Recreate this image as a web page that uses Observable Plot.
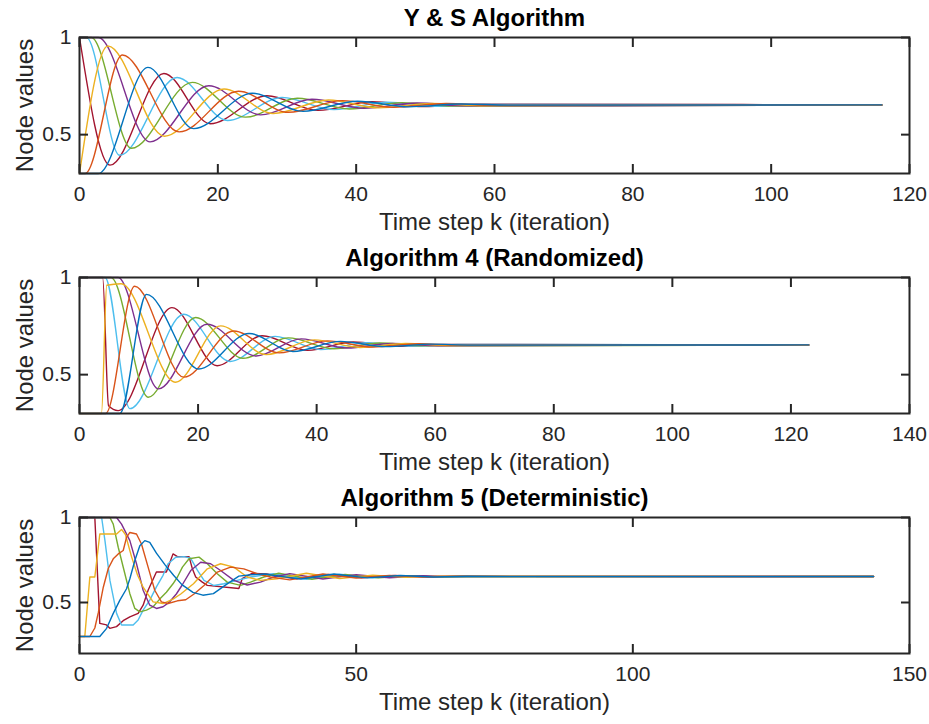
<!DOCTYPE html>
<html><head><meta charset="utf-8">
<script src="https://cdn.jsdelivr.net/npm/d3@7"></script>
<script src="https://cdn.jsdelivr.net/npm/@observablehq/plot@0.6"></script>
<style>
body{margin:0;background:#fff;}
#chart{position:relative;width:929px;height:724px;background:#fff;}
#chart svg{display:block;}
</style></head><body><div id="chart"></div>
<script>
// Node names and MATLAB default colour order
const nodeNames = ["Node 1","Node 2","Node 3","Node 4","Node 5","Node 6","Node 7"];
const nodeColors = ["#0072BD","#D95319","#EDB120","#7E2F8E","#77AC30","#4DBEEE","#A2142F"];

const titles = ["Y & S Algorithm","Algorithm 4 (Randomized)","Algorithm 5 (Deterministic)"];
const xLabel = "Time step k (iteration)";
const yLabel = "Node values";
const xTicks1 = [0,20,40,60,80,100,120];
const xTicks2 = [0,20,40,60,80,100,120,140];
const xTicks3 = [0,50,100,150];
const yTicks = [0.5,1];

// Panel 1 : Y & S  — [k, value] readings (turning points) per node
const ys1 = [[0,0.3],[2.7,0.3],[9.9,0.846],[16.5,0.531],[25.0,0.713],[32.3,0.62],[40.2,0.672],[47.6,0.643],[55.2,0.658],[62,0.652],[116,0.653]];
const ys2 = [[0,0.3],[0.8,0.3],[6.2,0.91],[14.4,0.514],[23.0,0.723],[30.2,0.615],[38.0,0.675],[45.4,0.641],[53.0,0.66],[60,0.651],[116,0.653]];
const ys3 = [[0,0.3],[4.1,0.956],[12.3,0.492],[20.9,0.735],[28.0,0.609],[36.0,0.678],[43.3,0.638],[51.0,0.661],[58,0.649],[116,0.653]];
const ys4 = [[0,1],[2.7,1],[10.2,0.463],[18.7,0.752],[26.2,0.602],[33.6,0.682],[41.1,0.636],[48.8,0.663],[56,0.648],[116,0.653]];
const ys5 = [[0,1],[1.7,1],[7.5,0.43],[16.3,0.769],[24.0,0.59],[31.5,0.687],[39.0,0.632],[46.6,0.665],[54,0.647],[116,0.653]];
const ys6 = [[0,1],[1.0,1],[5.8,0.394],[14.1,0.794],[21.4,0.573],[29.3,0.691],[36.8,0.629],[44.5,0.667],[52.0,0.646],[59,0.655],[116,0.653]];
const ys7 = [[0,1],[4.4,0.343],[12.2,0.815],[18.9,0.556],[27.1,0.70],[34.5,0.625],[42.3,0.669],[49.8,0.644],[57.4,0.657],[116,0.653]];

// Panel 2 : Algorithm 4 (Randomized)
const rnd1 = [[0,0.3],[6.8,0.3],[11.3,0.913],[20.1,0.529],[28.6,0.712],[36.0,0.619],[44.0,0.671],[51.7,0.644],[59.4,0.657],[66,0.652],[123,0.653]];
const rnd2 = [[0,0.3],[4.4,0.3],[9.3,0.955],[17.6,0.487],[26.0,0.725],[33.7,0.612],[41.8,0.674],[49.5,0.642],[57.2,0.659],[64,0.652],[123,0.653]];
const rnd3 = [[0,0.3],[3.7,0.3],[4.6,0.96],[7.0,0.968],[16.2,0.461],[23.8,0.751],[31.5,0.603],[39.6,0.679],[47.3,0.64],[55.0,0.66],[62.7,0.65],[123,0.653]];
const rnd4 = [[0,1],[6.5,1],[13.3,0.427],[21.5,0.759],[29.8,0.596],[37.4,0.684],[45.1,0.637],[52.8,0.661],[60.5,0.649],[123,0.653]];
const rnd5 = [[0,1],[5.3,1],[11.6,0.384],[19.6,0.794],[27.6,0.584],[35.2,0.689],[42.9,0.633],[50.6,0.663],[58.3,0.648],[123,0.653]];
const rnd6 = [[0,1],[4.3,1],[8.5,0.325],[17.6,0.811],[25.4,0.568],[33.0,0.697],[40.7,0.629],[48.4,0.665],[56.1,0.647],[63.8,0.656],[123,0.653]];
const rnd7 = [[0,1],[3.9,1],[4.9,0.34],[6.5,0.315],[15.6,0.845],[23.2,0.546],[30.8,0.70],[38.5,0.625],[46.2,0.668],[53.9,0.646],[61.6,0.656],[123,0.653]];

// Panel 3 : Algorithm 5 (Deterministic)
const det1 = [[0,0.3],[3.67,0.3],[4.9,0.348],[6.1,0.436],[7.3,0.514],[8.5,0.581],[9.1,0.64],[10.0,0.747],[10.9,0.834],[11.8,0.864],[12.7,0.854],[13.9,0.79],[15.5,0.72],[17,0.66],[18.5,0.605],[20.5,0.56],[22.3,0.543],[24.2,0.552],[26.5,0.605],[28.8,0.655],[31,0.663],[33.5,0.668],[36,0.655],[40,0.638],[46,0.668],[52,0.645],[58,0.659],[64,0.65],[70,0.654],[143.5,0.653]];
const det2 = [[0,0.3],[1.87,0.3],[2.77,0.35],[3.4,0.44],[4.3,0.59],[5.2,0.70],[6.1,0.757],[7.0,0.786],[7.9,0.806],[8.5,0.883],[9.1,0.912],[10.3,0.903],[11.2,0.844],[12.4,0.708],[13.6,0.572],[14.8,0.504],[16.0,0.494],[17.7,0.51],[19.2,0.516],[20.7,0.55],[22.5,0.6],[24.9,0.679],[27.3,0.708],[29.7,0.698],[32.1,0.669],[34.5,0.65],[38,0.633],[44,0.668],[50,0.644],[56,0.659],[62,0.65],[68,0.654],[143.5,0.653]];
const det3 = [[0,0.3],[0.96,0.3],[1.87,0.65],[2.77,0.65],[3.67,0.903],[6.7,0.903],[7.6,0.93],[8.3,0.9],[9.4,0.77],[10.5,0.66],[11.5,0.59],[13.3,0.504],[15.1,0.494],[16.9,0.52],[18.3,0.55],[20.6,0.61],[23.1,0.698],[25.5,0.728],[27.9,0.708],[30.3,0.65],[32.7,0.63],[35.7,0.64],[41,0.672],[47,0.641],[53,0.661],[59,0.648],[65,0.655],[143.5,0.653]];
const det4 = [[0,1],[6.7,1],[7.6,0.961],[9.1,0.864],[10.3,0.728],[11.5,0.572],[12.7,0.484],[13.9,0.465],[15.1,0.475],[16.3,0.504],[17.5,0.55],[18.5,0.6],[20.1,0.688],[21.9,0.737],[23.7,0.728],[25.5,0.688],[27.9,0.63],[30.3,0.603],[32.7,0.62],[35.1,0.65],[38,0.67],[44,0.638],[50,0.664],[56,0.646],[62,0.657],[68,0.652],[143.5,0.653]];
const det5 = [[0,1],[5.5,1],[6.1,0.961],[7.0,0.825],[8.2,0.669],[9.1,0.552],[10.0,0.465],[10.9,0.445],[12.1,0.455],[13.3,0.475],[14.5,0.52],[15.7,0.56],[16.9,0.61],[17.7,0.65],[18.6,0.708],[19.8,0.757],[21.6,0.767],[23.1,0.728],[24.9,0.669],[26.7,0.62],[29.1,0.601],[30.9,0.62],[33.3,0.65],[36,0.672],[42,0.637],[48,0.665],[54,0.645],[60,0.657],[66,0.651],[143.5,0.653]];
const det6 = [[0,1],[4.0,1],[4.6,0.864],[5.5,0.63],[6.7,0.436],[7.6,0.368],[9.7,0.368],[10.6,0.397],[11.5,0.455],[12.7,0.514],[13.9,0.592],[15.1,0.66],[16.0,0.728],[17.4,0.766],[18.9,0.77],[20.1,0.76],[21.3,0.69],[22.5,0.63],[24.3,0.6],[26.1,0.61],[28.5,0.63],[30.9,0.65],[35,0.67],[41,0.636],[47,0.666],[53,0.645],[59,0.658],[65,0.651],[143.5,0.653]];
const det7 = [[0,1],[2.77,1],[3.67,0.377],[4.88,0.368],[5.48,0.348],[6.69,0.358],[7.89,0.393],[9.1,0.416],[10.6,0.436],[11.5,0.484],[12.4,0.572],[13.9,0.679],[15.7,0.679],[16.9,0.786],[17.7,0.77],[19.8,0.77],[20.4,0.698],[21,0.65],[22.2,0.62],[23.1,0.601],[28.8,0.582],[29.4,0.64],[31.2,0.672],[33.9,0.668],[36.3,0.653],[39.3,0.64],[45,0.665],[51,0.646],[57,0.659],[63,0.65],[69,0.654],[143.5,0.653]];

const panels = [
  {title: titles[0], series: [ys1,ys2,ys3,ys4,ys5,ys6,ys7], xDomain: [0,120], xTicks: xTicks1, yDomain: [0.3,1], curve: "monotone-x"},
  {title: titles[1], series: [rnd1,rnd2,rnd3,rnd4,rnd5,rnd6,rnd7], xDomain: [0,140], xTicks: xTicks2, yDomain: [0.3,1], curve: "monotone-x"},
  {title: titles[2], series: [det1,det2,det3,det4,det5,det6,det7], xDomain: [0,150], xTicks: xTicks3, yDomain: [0.2,1], curve: "linear"}
];

const font = "'Liberation Sans', Arial, Helvetica, sans-serif";
const ink = "#262626";

function panel({title, series, xDomain, xTicks, yDomain, curve}) {
  const rows = [];
  // draw node 7 first and node 1 last (node 1 ends on top)
  for (let i = series.length - 1; i >= 0; --i) {
    series[i].forEach(([k, v]) => rows.push({node: nodeNames[i], k, v}));
  }
  const fmt = d => String(d);
  return Plot.plot({
    width: 929, height: 240,
    marginLeft: 79, marginRight: 20, marginTop: 37, marginBottom: 67,
    style: {fontFamily: font, color: ink, background: "white", overflow: "visible"},
    x: {domain: xDomain},
    y: {domain: yDomain},
    color: {domain: nodeNames, range: nodeColors},
    marks: [
      Plot.line(rows, {x: "k", y: "v", z: "node", stroke: "node", strokeWidth: 1.4, curve}),
      Plot.frame({stroke: ink, strokeWidth: 2}),
      Plot.axisX(xTicks, {anchor: "bottom", tickSize: 0, tickPadding: 13, tickFormat: fmt, label: null, fontSize: 21, fill: ink}),
      Plot.axisX(xTicks, {anchor: "bottom", tickSize: -9, tickFormat: () => "", label: null, stroke: ink, strokeWidth: 2}),
      Plot.axisX(xTicks, {anchor: "top", tickSize: -9, tickFormat: () => "", label: null, stroke: ink, strokeWidth: 2}),
      Plot.axisY(yTicks, {anchor: "left", tickSize: 0, tickPadding: 8, tickFormat: fmt, label: null, fontSize: 21, fill: ink}),
      Plot.axisY(yTicks, {anchor: "left", tickSize: -9, tickFormat: () => "", label: null, stroke: ink, strokeWidth: 2}),
      Plot.axisY(yTicks, {anchor: "right", tickSize: -9, tickFormat: () => "", label: null, stroke: ink, strokeWidth: 2}),
      Plot.text([title], {text: d => d, frameAnchor: "top", lineAnchor: "middle", dy: -19, fontWeight: "bold", fontSize: 24, fill: "#000"}),
      Plot.text([xLabel], {text: d => d, frameAnchor: "bottom", lineAnchor: "middle", dy: 49, fontSize: 24, fill: ink}),
      Plot.text([yLabel], {text: d => d, frameAnchor: "left", textAnchor: "middle", lineAnchor: "middle", dx: -54, rotate: -90, fontSize: 24, fill: ink})
    ]
  });
}

const root = document.getElementById("chart");
panels.forEach(p => root.appendChild(panel(p)));
</script>
</body></html>
